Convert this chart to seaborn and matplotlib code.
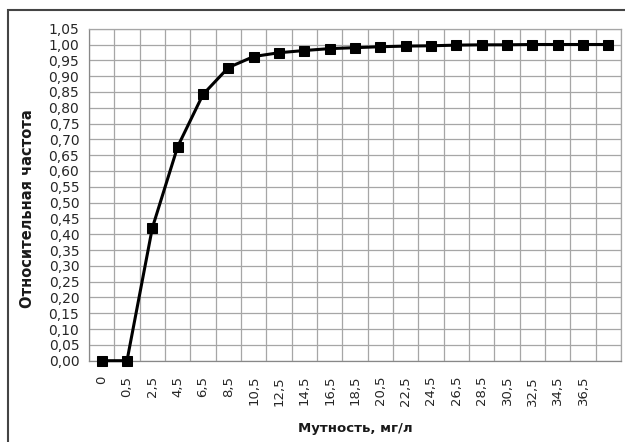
import numpy as np
import pandas as pd
import matplotlib
matplotlib.use("Agg")
import matplotlib.pyplot as plt
import seaborn as sns
from matplotlib.patches import Rectangle

# category labels (last category has no label)
x_labels = ["0", "0,5", "2,5", "4,5", "6,5", "8,5", "10,5", "12,5", "14,5",
            "16,5", "18,5", "20,5", "22,5", "24,5", "26,5", "28,5", "30,5",
            "32,5", "34,5", "36,5", ""]
rel_freq = [0.0, 0.0, 0.42, 0.677, 0.842, 0.927, 0.962, 0.974, 0.981,
            0.987, 0.990, 0.993, 0.995, 0.996, 0.998, 0.999, 0.999,
            1.0, 1.0, 1.0, 1.0]
y_ticks = np.arange(0, 1.0501, 0.05)

df = pd.DataFrame({"pos": np.arange(len(x_labels)), "freq": rel_freq})

sns.set_style("white")
plt.rcParams["font.family"] = ["DejaVu Sans"]

fig = plt.figure(figsize=(6.25, 4.42), dpi=100)
ax = fig.add_axes([89 / 625, 1 - 360.7 / 442, 532 / 625, (360.7 - 28.7) / 442])

sns.lineplot(data=df, x="pos", y="freq", ax=ax, color="black", linewidth=2.2,
             marker="s", markersize=7, markeredgecolor="black", zorder=5,
             clip_on=False)

n = len(x_labels)
ax.set_xlim(-0.5, n - 0.5)
ax.set_ylim(0, 1.05)

ax.set_xticks(np.arange(n))
ax.set_xticklabels(x_labels, rotation=90, fontsize=9.5, color="#262626")
ax.set_xticks(np.arange(n + 1) - 0.5, minor=True)
ax.set_yticks(y_ticks)
ax.set_yticklabels([f"{v:.2f}".replace(".", ",") for v in y_ticks],
                   fontsize=10, color="#262626")

ax.tick_params(axis="x", which="major", length=0, pad=11)
ax.tick_params(axis="x", which="minor", length=4, color="#888888")
ax.tick_params(axis="y", which="major", length=4, color="#888888", pad=3)

ax.grid(True, axis="y", which="major", color="#a6a6a6", linewidth=0.9)
ax.grid(True, axis="x", which="minor", color="#a6a6a6", linewidth=0.9)
ax.grid(False, axis="x", which="major")
ax.set_axisbelow(True)

for side in ["left", "bottom", "top", "right"]:
    ax.spines[side].set_visible(True)
    ax.spines[side].set_color("#a6a6a6")
    ax.spines[side].set_linewidth(0.9)
ax.spines["left"].set_color("#888888")
ax.spines["bottom"].set_color("#888888")

ax.set_xlabel("Мутность, мг/л", fontsize=9.5, fontweight="bold", color="#1a1a1a")
ax.set_ylabel("Относительная частота", fontsize=10.5, fontweight="bold", color="#1a1a1a")
ax.xaxis.set_label_coords(0.5, -0.203)
ax.yaxis.set_label_coords(-0.1165, 0.457)
ax.xaxis.label.set_verticalalignment("center")
ax.yaxis.label.set_verticalalignment("center")

# outer chart frame
fig.patches.append(Rectangle((8 / 625, -0.05), 1.1, 1 - 10 / 442 + 0.05,
                             transform=fig.transFigure, fill=False,
                             edgecolor="#444444", linewidth=1.5))

fig.savefig("out.png", dpi=100)
